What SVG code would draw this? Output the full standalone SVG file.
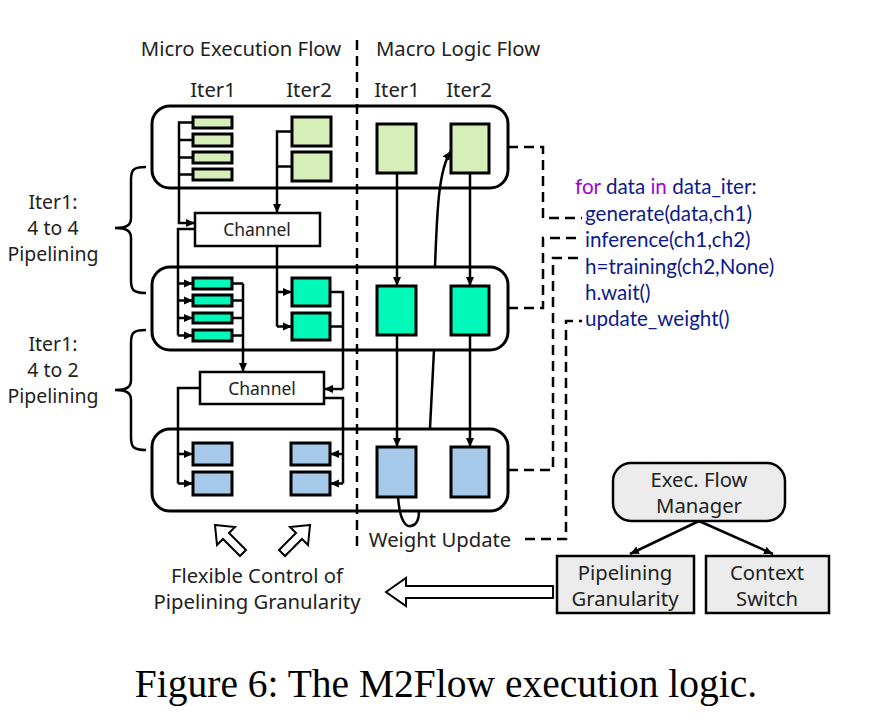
<svg xmlns="http://www.w3.org/2000/svg" width="890" height="726" viewBox="0 0 890 726">
<defs>
<style>
.t{font-family:"Noto Sans","Liberation Sans",sans-serif;fill:#222;font-size:20.3px;text-anchor:middle}
.s{font-size:19.5px}
.code{font-family:Lato,"Liberation Sans",sans-serif;fill:#0d1a8a;font-size:20.6px}
.kw{fill:#a000d8}
.blk{fill:#fff;stroke:#000;stroke-width:3}
.g{fill:#d6eeb8;stroke:#000;stroke-width:3}
.c{fill:#00f8b8;stroke:#000;stroke-width:3}
.b{fill:#a6c8e9;stroke:#000;stroke-width:3}
.ch{fill:#fff;stroke:#000;stroke-width:2.5}
.ln{fill:none;stroke:#000;stroke-width:2.5}
.ar{fill:none;stroke:#000;stroke-width:2.5;marker-end:url(#ah)}
.ds{fill:none;stroke:#000;stroke-width:2.5;stroke-dasharray:10,6}
.gb{fill:#ececec;stroke:#000;stroke-width:2.5}
</style>
<marker id="ah" markerWidth="10" markerHeight="10" refX="9" refY="5" orient="auto" markerUnits="userSpaceOnUse">
<path d="M0,1 L9,5 L0,9 Z" fill="#000"/>
</marker>
</defs>
<rect width="890" height="726" fill="#fff"/>

<g id="headings">
<text class="t" x="241" y="56">Micro Execution Flow</text>
<text class="t" x="458" y="56">Macro Logic Flow</text>
<text class="t" x="213" y="97">Iter1</text>
<text class="t" x="309" y="97">Iter2</text>
<text class="t" x="397" y="97">Iter1</text>
<text class="t" x="469" y="97">Iter2</text>
</g>

<g id="connectors-back">
<path class="ln" d="M430,428 L434,350"/>
</g>

<g id="block-top"><rect class="blk" x="152" y="106" width="356" height="82" rx="18"/></g>
<g id="block-mid"><rect class="blk" x="152" y="267" width="356" height="83" rx="18"/></g>
<g id="block-bot"><rect class="blk" x="152" y="429" width="356" height="82" rx="18"/></g>

<line class="ds" x1="357" y1="40" x2="357" y2="552"/>

<g id="micro-top">
<rect class="g" x="193" y="117" width="39" height="11"/>
<rect class="g" x="193" y="134" width="39" height="12"/>
<rect class="g" x="193" y="152" width="39" height="11"/>
<rect class="g" x="193" y="169" width="39" height="11"/>
<rect class="g" x="292" y="117" width="39" height="29"/>
<rect class="g" x="292" y="152" width="39" height="29"/>
</g>
<g id="micro-mid">
<rect class="c" x="193" y="278" width="39" height="11"/>
<rect class="c" x="193" y="295" width="39" height="11"/>
<rect class="c" x="193" y="313" width="39" height="10"/>
<rect class="c" x="193" y="330" width="39" height="11"/>
<rect class="c" x="292" y="278" width="38" height="28"/>
<rect class="c" x="292" y="313" width="38" height="27"/>
</g>
<g id="micro-bot">
<rect class="b" x="193" y="443" width="39" height="22"/>
<rect class="b" x="193" y="472" width="39" height="23"/>
<rect class="b" x="291" y="443" width="39" height="22"/>
<rect class="b" x="291" y="472" width="39" height="23"/>
</g>
<g id="channel1"><rect class="ch" x="195" y="213" width="125" height="33"/><text class="t" x="257" y="236" style="font-size:17.5px">Channel</text></g>
<g id="channel2"><rect class="ch" x="200" y="372" width="124" height="32"/><text class="t" x="262" y="395" style="font-size:17.5px">Channel</text></g>

<g id="macro-top">
<rect class="g" x="377" y="124" width="39" height="49"/>
<rect class="g" x="451" y="124" width="38" height="49"/>
</g>
<g id="macro-mid">
<rect class="c" x="377" y="286" width="39" height="49"/>
<rect class="c" x="451" y="286" width="38" height="49"/>
</g>
<g id="macro-bot">
<rect class="b" x="377" y="447" width="39" height="50"/>
<rect class="b" x="451" y="447" width="38" height="50"/>
</g>

<g id="connectors">
<path class="ln" d="M193,122.5 H179 V223"/>
<path class="ln" d="M193,140 H179 M193,157.5 H179 M193,174.5 H179"/>
<path class="ar" d="M179,222 V223 H195"/>
<path class="ln" d="M195,229 H178 V335.5"/>
<path class="ar" d="M178,283.5 H193"/>
<path class="ar" d="M178,300.5 H193"/>
<path class="ar" d="M178,318 H193"/>
<path class="ar" d="M178,335.5 H193"/>
<path class="ar" d="M292,131.5 H277 V213"/>
<path class="ln" d="M292,166.5 H277"/>
<path class="ln" d="M277,246 V326.5"/>
<path class="ar" d="M277,292 H292"/>
<path class="ar" d="M277,326.5 H292"/>
<path class="ln" d="M232,283.5 H243 M232,300.5 H243 M232,318 H243 M232,335.5 H243"/>
<path class="ar" d="M243,283.5 V372"/>
<path class="ln" d="M330,292 H343 V389 M330,326.5 H343"/>
<path class="ar" d="M343,389 H324"/>
<path class="ln" d="M200,388 H178 V483.5"/>
<path class="ar" d="M178,454 H193"/>
<path class="ar" d="M178,483.5 H193"/>
<path class="ln" d="M324,398 H343 V483.5"/>
<path class="ar" d="M343,454 H330"/>
<path class="ar" d="M343,483.5 H330"/>
<path class="ar" d="M397,173 V286"/>
<path class="ar" d="M470,173 V286"/>
<path class="ar" d="M397,335 V447"/>
<path class="ar" d="M470,335 V447"/>
<path class="ln" d="M398,497 C400,522 406,527 411,526 C417,525 419,518 419,511"/>
<path class="ar" d="M435,267 C437,215 438,170 451,151"/>
<path class="ds" d="M508,147 H543 V218 H582"/>
<path class="ds" d="M508,308 H543 V238 H582"/>
<path class="ds" d="M508,470 H553 V258 H582"/>
<path class="ds" d="M525,539 H566 V321 H582"/>
<path class="ar" d="M699,521 L630,554"/>
<path class="ar" d="M699,521 L773,554"/>
</g>

<g id="code">
<text class="code" x="575" y="194"><tspan class="kw">for</tspan> data <tspan class="kw">in</tspan> data_iter:</text>
<text class="code" x="585" y="221">generate(data,ch1)</text>
<text class="code" x="585" y="247">inference(ch1,ch2)</text>
<text class="code" x="585" y="274">h=training(ch2,None)</text>
<text class="code" x="585" y="300">h.wait()</text>
<text class="code" x="585" y="326">update_weight()</text>
</g>

<g id="label-44">
<text class="t s" x="53" y="209">Iter1:</text>
<text class="t s" x="53" y="235">4 to 4</text>
<text class="t s" x="53" y="261">Pipelining</text>
<path class="ln" d="M146,167 C133,167 131,170 131,180 V218 C131,225 127,228 115,228 C127,228 131,231 131,238 V280 C131,290 133,293 146,293"/>
</g>
<g id="label-42">
<text class="t s" x="53" y="351">Iter1:</text>
<text class="t s" x="53" y="377">4 to 2</text>
<text class="t s" x="53" y="403">Pipelining</text>
<path class="ln" d="M146,330 C133,330 131,333 131,343 V380 C131,387 127,390 115,390 C127,390 131,393 131,400 V437 C131,447 133,450 146,450"/>
</g>

<g id="weight-update"><text class="t" x="440" y="547">Weight Update</text></g>

<g id="up-arrows">
<path d="M215,525 L235,527 L229,533 L246,550 L240,556 L223,539 L217,545 Z" fill="#fff" stroke="#000" stroke-width="2"/>
<path d="M310,525 L290,527 L296,533 L279,550 L285,556 L302,539 L308,545 Z" fill="#fff" stroke="#000" stroke-width="2"/>
</g>
<g id="flex-label">
<text class="t" x="257" y="583">Flexible Control of</text>
<text class="t" x="257" y="609">Pipelining Granularity</text>
</g>
<g id="left-arrow">
<path d="M386,592 L406,578 L406,586 L553,586 L553,598 L406,598 L406,606 Z" fill="#fff" stroke="#000" stroke-width="2"/>
</g>

<g id="manager">
<rect class="gb" x="613" y="463" width="172" height="58" rx="18"/>
<text class="t" x="699" y="487">Exec. Flow</text>
<text class="t" x="699" y="513">Manager</text>
</g>
<g id="pipelining">
<rect class="gb" x="557" y="556" width="137" height="57"/>
<text class="t" x="625" y="580">Pipelining</text>
<text class="t" x="625" y="606">Granularity</text>
</g>
<g id="context">
<rect class="gb" x="706" y="556" width="123" height="57"/>
<text class="t" x="767" y="580">Context</text>
<text class="t" x="767" y="606">Switch</text>
</g>

<text x="446" y="697" style="font-family:'Liberation Serif',serif;font-size:39.5px;fill:#000;text-anchor:middle">Figure 6: The M2Flow execution logic.</text>
</svg>
